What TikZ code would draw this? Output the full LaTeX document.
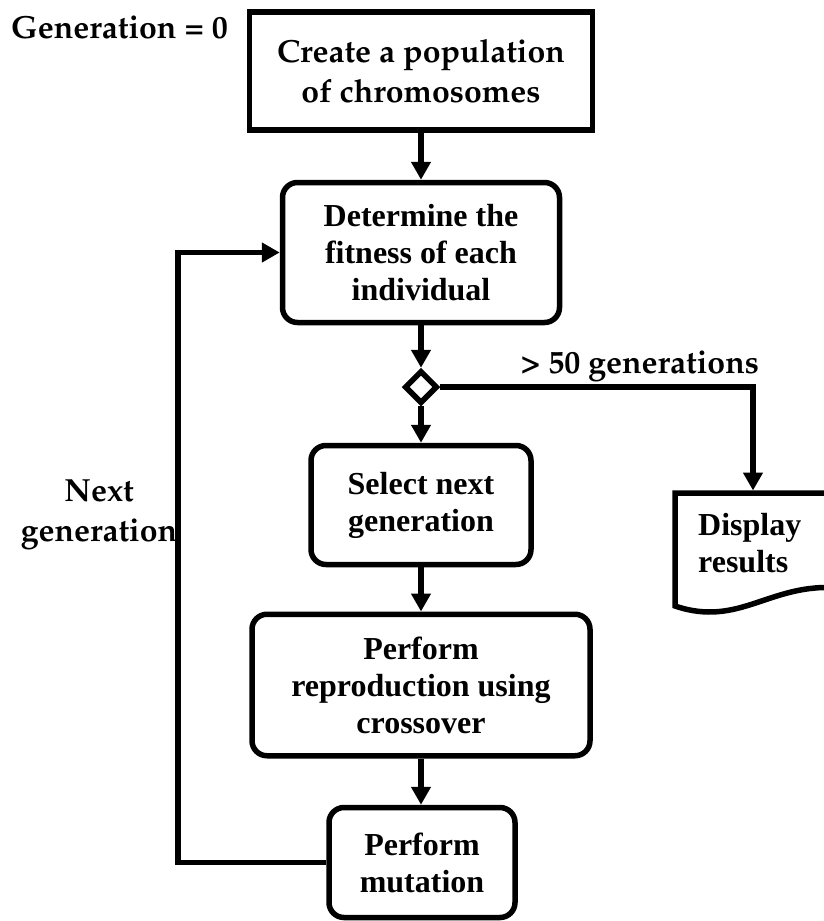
\documentclass[tikz,border=0pt]{standalone}
\usepackage[T1]{fontenc}
\usepackage{fontspec}
\setmainfont{Liberation Serif}
\usetikzlibrary{arrows.meta,shapes.geometric}
\newcommand{\palb}{\fontencoding{T1}\fontfamily{ppl}\fontseries{b}\fontshape{n}\fontsize{32}{40}\selectfont}
\newcommand{\tnrb}{\fontencoding{TU}\rmfamily\bfseries\fontsize{32}{37}\selectfont}
\tikzset{
  conn/.style={line width=5.5pt},
  arr/.style={line width=5.5pt,-{Triangle[length=18pt,width=19pt]}},
  pbox/.style={draw,line width=5.5pt,inner sep=0pt,align=center,fill=white},
  rbox/.style={pbox,rounded corners=15pt,font=\tnrb},
}
\begin{document}
\begin{tikzpicture}[x=1pt,y=-1pt]
\useasboundingbox (0,0) rectangle (824,921);
\clip (0,0) rectangle (824,921);
% nodes
\node[pbox,font=\palb,minimum width=343pt,minimum height=118pt] (b1) at (421,71) {Create a population\\of chromosomes};
\node[rbox,minimum width=277pt,minimum height=140pt] (b2) at (421,252.5) {Determine the\\fitness of each\\individual};
\node[draw,diamond,aspect=1,minimum size=33pt,inner sep=0pt,line width=5.5pt,fill=white] (d) at (421,387) {};
\node[rbox,minimum width=220pt,minimum height=119pt] (b3) at (421,505) {Select next\\generation};
\node[rbox,minimum width=338pt,minimum height=141.5pt] (b4) at (421,685) {Perform\\reproduction using\\crossover};
\node[rbox,minimum width=186pt,minimum height=110pt] (b5) at (422,862.5) {Perform\\mutation};
% display shape
\draw[conn,fill=white] (675,493) -- (870,493) -- (870,588) -- (840,588)
  .. controls (770,582) and (740,628) .. (675,606) -- cycle;
\node[font=\tnrb,align=left,anchor=west,inner sep=0pt] (disp) at (698,543) {Display\\results};
\coordinate (dtop) at (753,490.5);
\coordinate (lp) at (178,500);
% labels
\node[font=\palb,anchor=base west,inner sep=0pt] (g0) at (11,38) {Generation = 0};
\node[font=\palb,anchor=base,inner sep=0pt] (gt) at (640,373) {> 50 generations};
\node[font=\palb,align=center,inner sep=0pt] (ng) at (99,515) {Next\\generation};
% connectors
\draw[arr] (b1.south) -- (b2.north);
\draw[arr] (b2.south) -- (d.north);
\draw[arr] (d.south) -- (b3.north);
\draw[arr] (b3.south) -- (b4.north);
\draw[arr] (b4.south) -- (b5.north -| b4.south);
\draw[arr] (d.east) -| (dtop);
\draw[arr] (b5.west) -| (lp) |- (b2.west);
\end{tikzpicture}
\end{document}
